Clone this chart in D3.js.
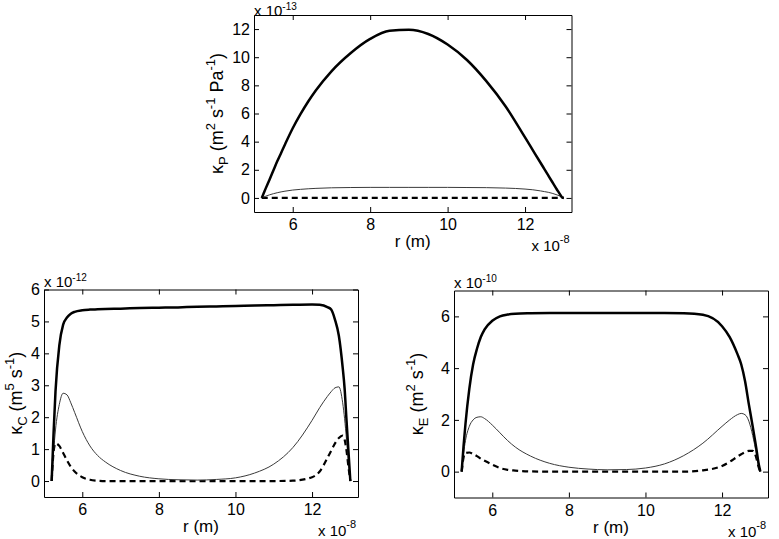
<!DOCTYPE html>
<html>
<head>
<meta charset="utf-8">
<script src="https://cdn.jsdelivr.net/npm/d3@7"></script>
<style>
	body { margin: 0; background: #fff; }
	svg { display: block; font-family: Arial, 'Liberation Sans', Helvetica, sans-serif; }
	.axis text { font-size: 16px; fill: #000; }
	.axis path, .axis line { stroke: #000; }
</style>
</head>
<body>
<div id="chart"></div>
<script>
/* global d3 */

// radius grid (x 10^-8 m), shared by all three panels
var r = [5.2, 5.25, 5.3, 5.4, 5.5, 5.6, 5.7, 5.8, 6.0, 6.2, 6.4, 6.6, 7.0, 7.5, 8.0, 8.5,
	9.0, 9.5, 10.0, 10.5, 11.0, 11.5, 12.0, 12.2, 12.4, 12.5, 12.6, 12.7, 12.8, 12.85, 12.9, 12.95, 13.0];

// kappa_P (x 10^-13)
var kPThick = [0, 0.33, 0.66, 1.3, 1.95, 2.6, 3.2, 3.8, 4.95, 5.95, 6.85, 7.65, 9.0, 10.3, 11.3, 11.88,
	11.95, 11.65, 10.9, 9.8, 8.3, 6.5, 4.3, 3.4, 2.5, 2.05, 1.6, 1.15, 0.7, 0.48, 0.27, 0.06, 0];
var kPThin = [0, 0.06, 0.12, 0.22, 0.3, 0.37, 0.43, 0.48, 0.56, 0.61, 0.65, 0.68, 0.72, 0.74, 0.75, 0.75,
	0.75, 0.75, 0.75, 0.74, 0.73, 0.7, 0.63, 0.58, 0.5, 0.45, 0.4, 0.33, 0.24, 0.19, 0.13, 0.05, 0];
var kPDash = [0, 0, 0, 0, 0, 0, 0, 0, 0, 0, 0, 0, 0, 0, 0, 0,
	0, 0, 0, 0, 0, 0, 0, 0, 0, 0, 0, 0, 0, 0, 0, 0, 0];

// kappa_C (x 10^-12)
var kCThick = [0, 1.5, 2.8, 4.25, 4.9, 5.12, 5.24, 5.3, 5.35, 5.37, 5.38, 5.39, 5.4, 5.42, 5.43, 5.44,
	5.46, 5.47, 5.48, 5.5, 5.51, 5.52, 5.53, 5.52, 5.45, 5.37, 5.05, 4.55, 3.55, 2.9, 1.9, 0.95, 0];
var kCThin = [0, 0.9, 1.6, 2.4, 2.75, 2.7, 2.45, 2.15, 1.55, 1.1, 0.8, 0.6, 0.33, 0.15, 0.07, 0.04,
	0.03, 0.05, 0.1, 0.25, 0.53, 1.05, 1.9, 2.3, 2.65, 2.8, 2.92, 2.95, 2.45, 1.95, 1.3, 0.6, 0];
var kCDash = [0, 0.9, 1.18, 1.1, 0.88, 0.65, 0.45, 0.3, 0.12, 0.04, 0.01, 0, 0, 0, 0, 0,
	0, 0, 0, 0, 0, 0.01, 0.12, 0.3, 0.72, 0.95, 1.18, 1.35, 1.42, 1.3, 0.95, 0.45, 0];

// kappa_E (x 10^-10)
var kEThick = [0, 1.0, 1.85, 3.2, 4.15, 4.75, 5.2, 5.5, 5.83, 6.0, 6.07, 6.1, 6.12, 6.13, 6.13, 6.13,
	6.13, 6.13, 6.13, 6.13, 6.12, 6.06, 5.62, 5.2, 4.55, 4.15, 3.5, 2.6, 1.75, 1.3, 0.85, 0.35, 0];
var kEThin = [0, 0.7, 1.2, 1.75, 2.0, 2.1, 2.12, 2.05, 1.8, 1.5, 1.2, 0.95, 0.6, 0.32, 0.17, 0.1,
	0.07, 0.08, 0.14, 0.3, 0.62, 1.1, 1.75, 2.0, 2.2, 2.25, 2.2, 1.95, 1.4, 1.05, 0.65, 0.25, 0];
var kEDash = [0, 0.55, 0.72, 0.74, 0.68, 0.6, 0.5, 0.42, 0.27, 0.14, 0.07, 0.04, 0.01, 0, 0, 0,
	0, 0, 0, 0, 0, 0.05, 0.22, 0.38, 0.58, 0.67, 0.75, 0.8, 0.8, 0.72, 0.5, 0.2, 0];

var xDomain = [5, 13.2];
var xTicks = [6, 8, 10, 12];
var xExponent = '-8';

var panels = [
	{
		box: {left: 254, top: 15, right: 571.5, bottom: 212},
		yDomain: [-1, 13], yTicks: [0, 2, 4, 6, 8, 10, 12], exponent: '-13',
		label: {sym: 'P', units: [['m', '2'], ['s', '-1'], ['Pa', '-1']]}, labelX: 223,
		series: [kPThick, kPThin, kPDash]
	},
	{
		box: {left: 44, top: 289.5, right: 358, bottom: 497},
		yDomain: [-0.5, 6], yTicks: [0, 1, 2, 3, 4, 5, 6], exponent: '-12',
		label: {sym: 'C', units: [['m', '5'], ['s', '-1']]}, labelX: 22,
		series: [kCThick, kCThin, kCDash]
	},
	{
		box: {left: 454, top: 290.5, right: 768, bottom: 497.5},
		yDomain: [-1, 7], yTicks: [0, 2, 4, 6], exponent: '-10',
		label: {sym: 'E', units: [['m', '2'], ['s', '-1']]}, labelX: 423,
		series: [kEThick, kEThin, kEDash]
	}
];

var lineStyles = [
	{width: 2.5, color: '#000', dash: null},
	{width: 1, color: '#3a3a3a', dash: null},
	{width: 2.2, color: '#000', dash: '6,4'}
];

var svg = d3.select('#chart').append('svg')
	.attr('width', 779)
	.attr('height', 539);

function Panel (cfg) {
	this.cfg = cfg;
	this.w = cfg.box.right - cfg.box.left;
	this.h = cfg.box.bottom - cfg.box.top;
	this.x = d3.scaleLinear().domain(xDomain).range([0, this.w]);
	this.y = d3.scaleLinear().domain(cfg.yDomain).range([this.h, 0]);
	this.g = svg.append('g')
		.attr('transform', 'translate(' + cfg.box.left + ',' + cfg.box.top + ')');

	this.drawLines();
	this.drawAxes();
	this.drawLabels();
}

Panel.prototype = {
	drawLines: function () {
		var that = this;
		var line = d3.line()
			.curve(d3.curveMonotoneX)
			.x(function (d, i) { return that.x(r[i]); })
			.y(function (d) { return that.y(d); });

		// dashed first, thick last (on top)
		[2, 1, 0].forEach(function (k) {
			var st = lineStyles[k];
			that.g.append('path')
				.attr('d', line(that.cfg.series[k]))
				.attr('fill', 'none')
				.attr('stroke', st.color)
				.attr('stroke-width', st.width)
				.attr('stroke-dasharray', st.dash);
		});
	},

	drawAxes: function () {
		var tick = -5,
			fmt = d3.format('d');
		this.g.append('g')
			.attr('class', 'axis')
			.attr('transform', 'translate(0,' + this.h + ')')
			.call(d3.axisBottom(this.x).tickValues(xTicks).tickFormat(fmt).tickSize(tick).tickSizeOuter(0).tickPadding(7));
		this.g.append('g')
			.attr('class', 'axis')
			.call(d3.axisTop(this.x).tickValues(xTicks).tickSize(tick).tickSizeOuter(0).tickFormat(''));
		this.g.append('g')
			.attr('class', 'axis')
			.call(d3.axisLeft(this.y).tickValues(this.cfg.yTicks).tickFormat(fmt).tickSize(tick).tickSizeOuter(0).tickPadding(4));
		this.g.append('g')
			.attr('class', 'axis')
			.attr('transform', 'translate(' + this.w + ',0)')
			.call(d3.axisRight(this.y).tickValues(this.cfg.yTicks).tickSize(tick).tickSizeOuter(0).tickFormat(''));
	},

	drawLabels: function () {
		var cfg = this.cfg;

		// exponent over the y axis
		var ey = svg.append('text')
			.attr('x', cfg.box.left)
			.attr('y', Math.max(cfg.box.top - 3, 16))
			.style('font-size', '15px');
		ey.append('tspan').text('x 10');
		ey.append('tspan').attr('dy', -6).style('font-size', '10px').text(cfg.exponent);

		// exponent under the x axis
		var ex = svg.append('text')
			.attr('x', cfg.box.right - 40)
			.attr('y', cfg.box.bottom + 39)
			.style('font-size', '15px');
		ex.append('tspan').text('x 10');
		ex.append('tspan').attr('dy', -8).style('font-size', '11px').text(xExponent);

		svg.append('text')
			.attr('x', (cfg.box.left + cfg.box.right) / 2)
			.attr('y', cfg.box.bottom + 35)
			.attr('text-anchor', 'middle')
			.style('font-size', '17px')
			.text('r (m)');

		// y label: kappa with subscript and unit powers
		var cy = (cfg.box.top + cfg.box.bottom) / 2;
		var yl = svg.append('text')
			.attr('transform', 'translate(' + cfg.labelX + ',' + cy + ') rotate(-90)')
			.attr('text-anchor', 'middle')
			.style('font-size', '18px');
		yl.append('tspan').text('\u03ba');
		yl.append('tspan').attr('dy', 5).style('font-size', '13px').text(cfg.label.sym);
		var shift = 5;
		cfg.label.units.forEach(function (u, i) {
			yl.append('tspan').attr('dy', -shift).text((i === 0 ? ' (' : ' ') + u[0]);
			yl.append('tspan').attr('dy', -8).style('font-size', '13px').text(u[1]);
			shift = -8;
		});
		yl.append('tspan').attr('dy', 8).text(')');
	}
};

panels.forEach(function (p) { return new Panel(p); });
</script>
</body>
</html>
